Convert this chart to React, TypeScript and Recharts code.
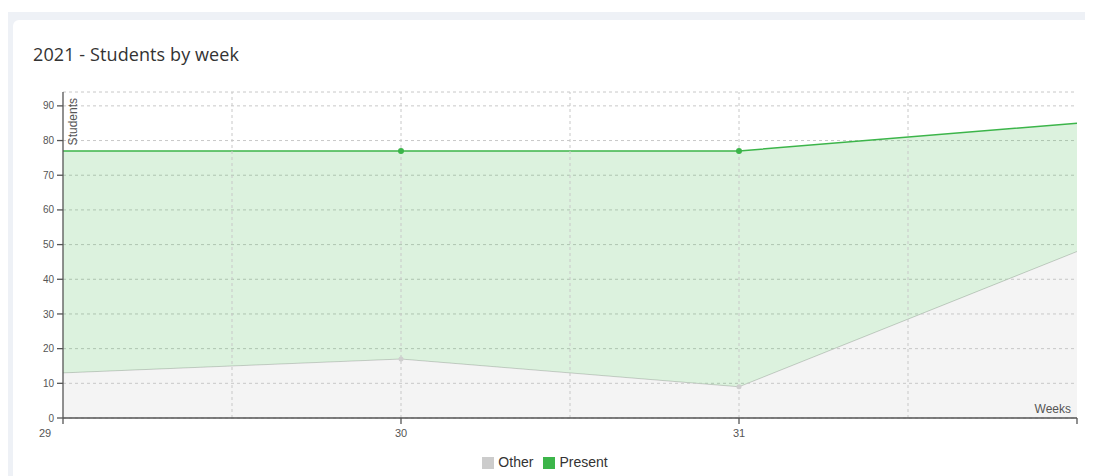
import React from "react";
import {
    AreaChart,
    Area,
    XAxis,
    YAxis,
    CartesianGrid,
    ReferenceLine,
    Legend,
} from "recharts";

// week numbers and stacked values
const weeks = [29, 30, 31, 32];
const otherStudents = [13, 17, 9, 48];
const presentStudents = [64, 60, 68, 37];

const xTicks = [29, 30, 31, 32];
const yTicks = [0, 10, 20, 30, 40, 50, 60, 70, 80, 90];
const gridWeeks = [29.5, 30, 30.5, 31, 31.5];

const data = weeks.map((week, i) => ({
    week,
    Other: otherStudents[i],
    Present: presentStudents[i],
}));

const sans = "'Liberation Sans', Arial, sans-serif";
const tickFont = { fontSize: 10, fill: "#555", fontFamily: sans };
const labelFont = { fontSize: 12, fill: "#555", fontFamily: sans };

function WeekTick({ x, y, payload }: any) {
    if (payload.value === 32) return null;
    const shift = payload.value === 29 ? -18 : 0;
    return (
        <text
            x={x + shift}
            y={y}
            dy="0.71em"
            textAnchor="middle"
            fontFamily={sans}
            fontSize={11}
            fill="#555"
            stroke="none"
        >
            {payload.value}
        </text>
    );
}

function makeDot(color: string, r: number) {
    return (props: any) => {
        const { cx, cy, index } = props;
        if (index === 0 || index === data.length - 1) return <g key={index} />;
        return <circle key={index} cx={cx} cy={cy} r={r} fill={color} stroke="none" />;
    };
}

export default function App() {
    return (
        <div style={{ width: 1085, height: 468, overflow: "hidden", position: "relative", background: "#fff" }}>
            <div style={{ position: "absolute", left: 0, top: 4, width: 1200, height: 500, background: "#eef1f6" }}>
                <div
                    style={{
                        position: "absolute",
                        left: 5,
                        top: 8,
                        width: 1150,
                        height: 480,
                        background: "#fff",
                        borderRadius: 6,
                    }}
                >
                    <div
                        style={{
                            position: "absolute",
                            left: 20,
                            top: 24,
                            fontFamily: "'Open Sans', Lato, sans-serif",
                            fontSize: 18,
                            fontWeight: 500,
                            letterSpacing: 0.1,
                            lineHeight: "20px",
                            color: "#333",
                        }}
                    >
                        2021 - Students by week
                    </div>
                    <div style={{ position: "absolute", left: 0, top: 60 }}>
                        <AreaChart
                            width={1080}
                            height={396}
                            data={data}
                            margin={{ top: 12, right: 16, left: 0, bottom: 6 }}
                        >
                            <CartesianGrid vertical={false} strokeDasharray="3 3" stroke="#c8c8c8" />
                            {gridWeeks.map((w) => (
                                <ReferenceLine key={w} x={w} stroke="#c8c8c8" strokeDasharray="3 3" />
                            ))}
                            <XAxis
                                dataKey="week"
                                type="number"
                                domain={[29, 32]}
                                ticks={xTicks}
                                height={36}
                                tick={<WeekTick />}
                                tickSize={6}
                                tickMargin={5}
                                stroke="#555"
                                strokeWidth={1.3}
                                label={(props: any) => {
                                    const vb = props.viewBox;
                                    return (
                                        <text
                                            x={vb.x + vb.width - 6}
                                            y={vb.y - 5}
                                            textAnchor="end"
                                            {...labelFont}
                                        >
                                            Weeks
                                        </text>
                                    );
                                }}
                            />
                            <YAxis
                                type="number"
                                domain={[0, 94]}
                                ticks={yTicks}
                                width={50}
                                tick={tickFont}
                                tickSize={6}
                                tickMargin={3}
                                stroke="#555"
                                strokeWidth={1.3}
                                label={(props: any) => {
                                    const vb = props.viewBox;
                                    const lx = vb.x + vb.width + 14;
                                    const ly = vb.y + 6;
                                    return (
                                        <text
                                            x={lx}
                                            y={ly}
                                            transform={`rotate(-90 ${lx} ${ly})`}
                                            textAnchor="end"
                                            {...labelFont}
                                        >
                                            Students
                                        </text>
                                    );
                                }}
                            />
                            <Legend
                                verticalAlign="bottom"
                                iconType="square"
                                iconSize={12}
                                wrapperStyle={{
                                    left: 5,
                                    width: 1064,
                                    fontSize: 14,
                                    color: "#333",
                                    fontFamily: sans,
                                }}
                                formatter={(value: string) => <span style={{ color: "#333" }}>{value}</span>}
                            />
                            <Area
                                type="linear"
                                dataKey="Other"
                                stackId="1"
                                stroke="#cccccc"
                                strokeWidth={1}
                                fill="#c7c7c7"
                                fillOpacity={0.2}
                                dot={makeDot("#cfcfcf", 2.5)}
                                activeDot={false}
                                isAnimationActive={false}
                            />
                            <Area
                                type="linear"
                                dataKey="Present"
                                stackId="1"
                                stroke="#3cb54a"
                                strokeWidth={1.5}
                                fill="#3cb54a"
                                fillOpacity={0.18}
                                dot={makeDot("#3cb54a", 3)}
                                activeDot={false}
                                isAnimationActive={false}
                            />
                        </AreaChart>
                    </div>
                </div>
            </div>
        </div>
    );
}
